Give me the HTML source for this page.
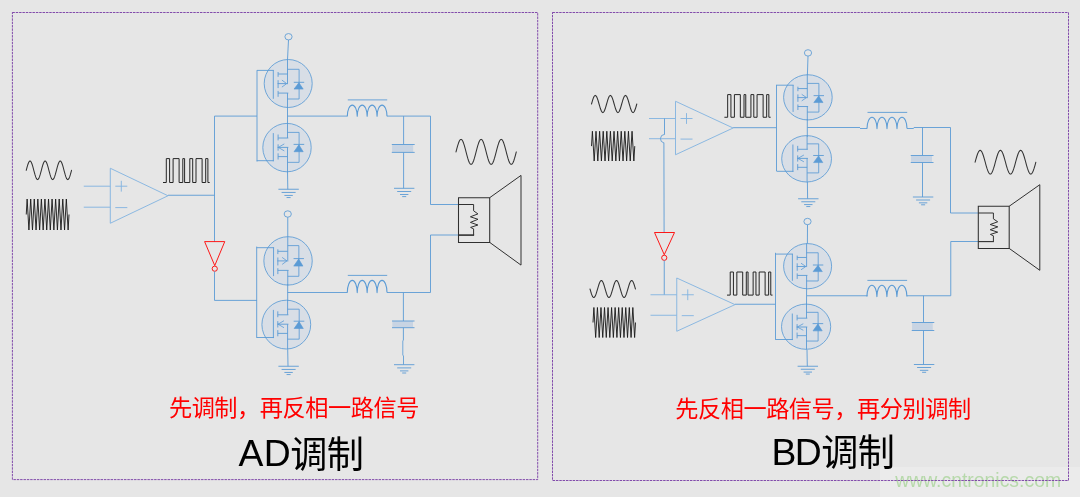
<!DOCTYPE html>
<html lang="zh-CN">
<head>
<meta charset="utf-8">
<title>AD调制 / BD调制</title>
<style>
html,body{margin:0;padding:0;background:#e6e6e6;}
body{width:1080px;height:497px;overflow:hidden;position:relative;font-family:"Liberation Sans","Noto Sans CJK SC",sans-serif;}
svg{position:absolute;left:0;top:0;display:block;will-change:transform;}
.wm{position:absolute;left:880px;top:467px;width:200px;height:30px;background:#ebebeb;}
</style>
</head>
<body>
<div class="wm"></div>
<svg width="1080" height="497" viewBox="0 0 1080 497">
<text x="978.1" y="487.4" font-size="19.4" fill="#b7d9ab" text-anchor="middle" font-family="'Liberation Sans',sans-serif">www.cntronics.com</text>
<rect x="12.4" y="12.5" width="525.3" height="467.1" fill="none" stroke="#7030a0" stroke-width="0.85" stroke-dasharray="2.45 0.9"/>
<rect x="552.5" y="12.5" width="516" height="468" fill="none" stroke="#7030a0" stroke-width="0.85" stroke-dasharray="2.45 0.9"/>
<path d="M26.25 170.3 L26.88 167.89 L27.51 165.65 L28.14 163.72 L28.77 162.25 L29.4 161.32 L30.02 161 L30.65 161.32 L31.28 162.25 L31.91 163.72 L32.54 165.65 L33.17 167.89 L33.8 170.3 L34.43 172.71 L35.06 174.95 L35.69 176.88 L36.32 178.35 L36.95 179.28 L37.58 179.6 L38.2 179.28 L38.83 178.35 L39.46 176.88 L40.09 174.95 L40.72 172.71 L41.35 170.3 L41.98 167.89 L42.61 165.65 L43.24 163.72 L43.87 162.25 L44.5 161.32 L45.12 161 L45.75 161.32 L46.38 162.25 L47.01 163.72 L47.64 165.65 L48.27 167.89 L48.9 170.3 L49.53 172.71 L50.16 174.95 L50.79 176.88 L51.42 178.35 L52.05 179.28 L52.67 179.6 L53.3 179.28 L53.93 178.35 L54.56 176.88 L55.19 174.95 L55.82 172.71 L56.45 170.3 L57.08 167.89 L57.71 165.65 L58.34 163.72 L58.97 162.25 L59.6 161.32 L60.23 161 L60.85 161.32 L61.48 162.25 L62.11 163.72 L62.74 165.65 L63.37 167.89 L64 170.3 L64.63 172.71 L65.26 174.95 L65.89 176.88 L66.52 178.35 L67.15 179.28 L67.78 179.6 L68.4 179.28 L69.03 178.35 L69.66 176.88 L70.29 174.95 L70.92 172.71 L71.55 170.3" stroke="#333333" stroke-width="1.05" fill="none" stroke-linejoin="round" stroke-linecap="round"/>
<path d="M26.25 214.5 L27.14 199 L28.92 230 L30.7 199 L32.48 230 L34.27 199 L36.05 230 L37.83 199 L39.61 230 L41.39 199 L43.17 230 L44.95 199 L46.73 230 L48.52 199 L50.3 230 L52.08 199 L53.86 230 L55.64 199 L57.42 230 L59.2 199 L60.98 230 L62.77 199 L64.55 230 L66.33 199 L68.11 230 L69 214.5" stroke="#1a1a1a" stroke-width="0.92" fill="none" stroke-linejoin="round"/>
<path d="M110.3 168.25 L168 195.75 L110.3 223.25 Z" stroke="#86b5e0" stroke-width="0.95" fill="none" />
<line x1="83.75" y1="186.2" x2="110.3" y2="186.2" stroke="#86b5e0" stroke-width="0.95" />
<line x1="83.75" y1="207.2" x2="110.3" y2="207.2" stroke="#86b5e0" stroke-width="0.95" />
<line x1="115.3" y1="186.2" x2="127.3" y2="186.2" stroke="#86b5e0" stroke-width="0.95" />
<line x1="121.3" y1="180.8" x2="121.3" y2="191.6" stroke="#86b5e0" stroke-width="0.95" />
<line x1="115.3" y1="207.6" x2="127.3" y2="207.6" stroke="#86b5e0" stroke-width="0.95" />
<path d="M163 182.5 L166.3 182.5 L166.3 158.6 L169.6 158.6 L169.6 182.5 L173.1 182.5 L173.1 158.6 L179.1 158.6 L179.1 182.5 L182.8 182.5 L182.8 158.6 L184.6 158.6 L184.6 182.5 L189.8 182.5 L189.8 158.6 L192.7 158.6 L192.7 182.5 L196 182.5 L196 158.6 L202.1 158.6 L202.1 182.5 L205.7 182.5 L205.7 158.6 L207.9 158.6 L207.9 182.5 L209.7 182.5" stroke="#262626" stroke-width="1.0" fill="none" />
<line x1="168" y1="195.25" x2="214.5" y2="195.25" stroke="#5b9bd5" stroke-width="0.9" />
<line x1="214.5" y1="116.1" x2="214.5" y2="241.6" stroke="#5b9bd5" stroke-width="0.9" />
<line x1="214.5" y1="116.1" x2="257" y2="116.1" stroke="#5b9bd5" stroke-width="0.9" />
<line x1="257" y1="70.2" x2="257" y2="161.5" stroke="#5b9bd5" stroke-width="0.9" />
<ellipse cx="288.2" cy="83.5" rx="24" ry="24" fill="#d8dee6" stroke="#5b9bd5" stroke-width="0.85"/>
<line x1="273.3" y1="70.2" x2="273.3" y2="98.8" stroke="#5b9bd5" stroke-width="0.9" />
<line x1="257" y1="70.4" x2="273.8" y2="70.4" stroke="#5b9bd5" stroke-width="0.9" />
<line x1="278.1" y1="72" x2="278.1" y2="76.8" stroke="#5b9bd5" stroke-width="0.9" />
<line x1="278.1" y1="80.2" x2="278.1" y2="88.1" stroke="#5b9bd5" stroke-width="0.9" />
<line x1="278.1" y1="90.9" x2="278.1" y2="96.8" stroke="#5b9bd5" stroke-width="0.9" />
<line x1="278.1" y1="74" x2="287.5" y2="74" stroke="#5b9bd5" stroke-width="0.9" />
<line x1="278.1" y1="93.1" x2="288.3" y2="93.1" stroke="#5b9bd5" stroke-width="0.9" />
<line x1="277.6" y1="83.6" x2="286.7" y2="83.6" stroke="#5b9bd5" stroke-width="0.9" />
<path d="M281.9 80.1 L286.7 83.6 L281.9 87.1" stroke="#5b9bd5" stroke-width="0.8" fill="none" />
<line x1="287.5" y1="59.2" x2="287.5" y2="84.2" stroke="#5b9bd5" stroke-width="0.9" />
<line x1="287.5" y1="93.1" x2="287.5" y2="107.8" stroke="#5b9bd5" stroke-width="0.9" />
<path d="M287.5 69.3 L299.1 69.3 L299.1 99 L287.5 99" stroke="#5b9bd5" stroke-width="0.85" fill="none" />
<line x1="293.8" y1="82.3" x2="304.2" y2="82.3" stroke="#5b9bd5" stroke-width="0.9" />
<path d="M298.9 82.7 L303.2 89.1 L294 89.1 Z" stroke="#5b9bd5" stroke-width="0.6" fill="#5b9bd5" />
<ellipse cx="287" cy="147.6" rx="24.2" ry="24.2" fill="#d8dee6" stroke="#5b9bd5" stroke-width="0.85"/>
<line x1="273.3" y1="133.1" x2="273.3" y2="161.3" stroke="#5b9bd5" stroke-width="0.9" />
<line x1="256.8" y1="160.7" x2="273.8" y2="160.7" stroke="#5b9bd5" stroke-width="0.9" />
<line x1="278.1" y1="134.5" x2="278.1" y2="140.4" stroke="#5b9bd5" stroke-width="0.9" />
<line x1="278.1" y1="144.3" x2="278.1" y2="150.7" stroke="#5b9bd5" stroke-width="0.9" />
<line x1="278.1" y1="153.3" x2="278.1" y2="159.5" stroke="#5b9bd5" stroke-width="0.9" />
<line x1="278.1" y1="138" x2="288.3" y2="138" stroke="#5b9bd5" stroke-width="0.9" />
<line x1="278.1" y1="156.6" x2="287.5" y2="156.6" stroke="#5b9bd5" stroke-width="0.9" />
<line x1="277.6" y1="147.4" x2="288.3" y2="147.4" stroke="#5b9bd5" stroke-width="0.9" />
<path d="M284.3 143.9 L278.3 147.4 L284.3 150.9" stroke="#5b9bd5" stroke-width="0.8" fill="none" />
<line x1="287.5" y1="123.1" x2="287.5" y2="138" stroke="#5b9bd5" stroke-width="0.9" />
<line x1="287.5" y1="147.4" x2="287.5" y2="172.1" stroke="#5b9bd5" stroke-width="0.9" />
<path d="M287.5 132.4 L299.1 132.4 L299.1 162.35 L287.5 162.35" stroke="#5b9bd5" stroke-width="0.85" fill="none" />
<line x1="293.6" y1="144.4" x2="304.2" y2="144.4" stroke="#5b9bd5" stroke-width="0.9" />
<path d="M298.9 144.8 L303.2 151.7 L294 151.7 Z" stroke="#5b9bd5" stroke-width="0.6" fill="#5b9bd5" />
<ellipse cx="288.5" cy="36.75" rx="3.6" ry="3.2" fill="none" stroke="#5b9bd5" stroke-width="0.85"/>
<line x1="288.5" y1="39.95" x2="287.5" y2="59.5" stroke="#5b9bd5" stroke-width="0.9" />
<line x1="287.5" y1="107" x2="287.5" y2="124" stroke="#5b9bd5" stroke-width="0.9" />
<line x1="287.6" y1="116.1" x2="347.5" y2="116.1" stroke="#5b9bd5" stroke-width="0.9" />
<path d="M347.3 116.3 A4.96 11.2 0 0 1 357.23 116.3 A4.96 11.2 0 0 1 367.15 116.3 A4.96 11.2 0 0 1 377.07 116.3 A4.96 11.2 0 0 1 387 116.3" stroke="#5b9bd5" stroke-width="1.1" fill="none" stroke-linejoin="round"/>
<line x1="347.8" y1="99.9" x2="387.2" y2="99.9" stroke="#5b9bd5" stroke-width="0.9" />
<line x1="387" y1="116.1" x2="430.5" y2="116.1" stroke="#5b9bd5" stroke-width="0.9" />
<line x1="403.6" y1="116.1" x2="403.6" y2="144.5" stroke="#5b9bd5" stroke-width="0.9" />
<rect x="392.1" y="144.5" width="21.1" height="7.9" fill="#c8d4e3"/>
<line x1="391.8" y1="144.5" x2="414.7" y2="144.5" stroke="#5b9bd5" stroke-width="0.9" />
<line x1="391.8" y1="152.4" x2="414.7" y2="152.4" stroke="#5b9bd5" stroke-width="0.9" />
<line x1="403.6" y1="152.4" x2="403.6" y2="188.3" stroke="#5b9bd5" stroke-width="0.9" />
<line x1="394" y1="188.3" x2="414.4" y2="188.3" stroke="#5b9bd5" stroke-width="0.9" />
<line x1="397.2" y1="191.5" x2="411.2" y2="191.5" stroke="#5b9bd5" stroke-width="0.9" />
<line x1="400" y1="194.5" x2="408.4" y2="194.5" stroke="#5b9bd5" stroke-width="0.9" />
<line x1="402.2" y1="196.6" x2="406.2" y2="196.6" stroke="#5b9bd5" stroke-width="0.9" />
<line x1="430.5" y1="116.1" x2="430.5" y2="204.5" stroke="#5b9bd5" stroke-width="0.9" />
<line x1="430.5" y1="204.5" x2="458.5" y2="204.5" stroke="#5b9bd5" stroke-width="0.9" />
<line x1="287.5" y1="171.5" x2="287.8" y2="189.25" stroke="#5b9bd5" stroke-width="0.9" />
<line x1="278.4" y1="189.25" x2="298.8" y2="189.25" stroke="#5b9bd5" stroke-width="0.9" />
<line x1="281.6" y1="192.45" x2="295.6" y2="192.45" stroke="#5b9bd5" stroke-width="0.9" />
<line x1="284.4" y1="195.45" x2="292.8" y2="195.45" stroke="#5b9bd5" stroke-width="0.9" />
<line x1="286.6" y1="197.55" x2="290.6" y2="197.55" stroke="#5b9bd5" stroke-width="0.9" />
<path d="M204.6 241.6 L224.75 241.6 L214.75 265.6 Z" stroke="#ff0000" stroke-width="0.9" fill="none" stroke-linejoin="miter"/>
<circle cx="214.75" cy="268.7" r="2.6" fill="none" stroke="#ff0000" stroke-width="0.9"/>
<line x1="214.5" y1="271.4" x2="214.5" y2="300.4" stroke="#5b9bd5" stroke-width="0.9" />
<line x1="214.5" y1="300.4" x2="257" y2="300.4" stroke="#5b9bd5" stroke-width="0.9" />
<line x1="256.7" y1="246.6" x2="256.7" y2="337.8" stroke="#5b9bd5" stroke-width="0.9" />
<ellipse cx="288.05" cy="260.9" rx="24.2" ry="24.2" fill="#d8dee6" stroke="#5b9bd5" stroke-width="0.85"/>
<line x1="273.55" y1="247.5" x2="273.55" y2="276.1" stroke="#5b9bd5" stroke-width="0.9" />
<line x1="256.7" y1="247.7" x2="274.05" y2="247.7" stroke="#5b9bd5" stroke-width="0.9" />
<line x1="277.85" y1="249.3" x2="277.85" y2="254.1" stroke="#5b9bd5" stroke-width="0.9" />
<line x1="277.85" y1="257.5" x2="277.85" y2="265.4" stroke="#5b9bd5" stroke-width="0.9" />
<line x1="277.85" y1="268.2" x2="277.85" y2="274.1" stroke="#5b9bd5" stroke-width="0.9" />
<line x1="277.85" y1="251.3" x2="287.75" y2="251.3" stroke="#5b9bd5" stroke-width="0.9" />
<line x1="277.85" y1="270.4" x2="288.55" y2="270.4" stroke="#5b9bd5" stroke-width="0.9" />
<line x1="277.35" y1="260.9" x2="286.95" y2="260.9" stroke="#5b9bd5" stroke-width="0.9" />
<path d="M282.15 257.4 L286.95 260.9 L282.15 264.4" stroke="#5b9bd5" stroke-width="0.8" fill="none" />
<line x1="287.75" y1="236.4" x2="287.75" y2="261.5" stroke="#5b9bd5" stroke-width="0.9" />
<line x1="287.75" y1="270.4" x2="287.75" y2="285.4" stroke="#5b9bd5" stroke-width="0.9" />
<path d="M287.75 245.6 L298.85 245.6 L298.85 276.3 L287.75 276.3" stroke="#5b9bd5" stroke-width="0.85" fill="none" />
<line x1="293.55" y1="258.6" x2="303.95" y2="258.6" stroke="#5b9bd5" stroke-width="0.9" />
<path d="M298.65 259 L302.95 266.1 L293.75 266.1 Z" stroke="#5b9bd5" stroke-width="0.6" fill="#5b9bd5" />
<ellipse cx="286.3" cy="324.6" rx="24.4" ry="24.4" fill="#d8dee6" stroke="#5b9bd5" stroke-width="0.85"/>
<line x1="273.4" y1="309.9" x2="273.4" y2="338.1" stroke="#5b9bd5" stroke-width="0.9" />
<line x1="256.7" y1="337.5" x2="273.9" y2="337.5" stroke="#5b9bd5" stroke-width="0.9" />
<line x1="277.8" y1="311.3" x2="277.8" y2="317.2" stroke="#5b9bd5" stroke-width="0.9" />
<line x1="277.8" y1="321.1" x2="277.8" y2="327.5" stroke="#5b9bd5" stroke-width="0.9" />
<line x1="277.8" y1="330.1" x2="277.8" y2="336.3" stroke="#5b9bd5" stroke-width="0.9" />
<line x1="277.8" y1="314.8" x2="288.4" y2="314.8" stroke="#5b9bd5" stroke-width="0.9" />
<line x1="277.8" y1="333.4" x2="287.6" y2="333.4" stroke="#5b9bd5" stroke-width="0.9" />
<line x1="277.3" y1="324.2" x2="288.4" y2="324.2" stroke="#5b9bd5" stroke-width="0.9" />
<path d="M284 320.7 L278 324.2 L284 327.7" stroke="#5b9bd5" stroke-width="0.8" fill="none" />
<line x1="287.6" y1="299.9" x2="287.6" y2="314.8" stroke="#5b9bd5" stroke-width="0.9" />
<line x1="287.6" y1="324.2" x2="287.6" y2="349.3" stroke="#5b9bd5" stroke-width="0.9" />
<path d="M287.6 309.2 L299.2 309.2 L299.2 339.15 L287.6 339.15" stroke="#5b9bd5" stroke-width="0.85" fill="none" />
<line x1="293.7" y1="321.2" x2="304.3" y2="321.2" stroke="#5b9bd5" stroke-width="0.9" />
<path d="M299 321.6 L303.3 328.5 L294.1 328.5 Z" stroke="#5b9bd5" stroke-width="0.6" fill="#5b9bd5" />
<ellipse cx="287.75" cy="214" rx="3.6" ry="3.2" fill="none" stroke="#5b9bd5" stroke-width="0.85"/>
<line x1="287.75" y1="217.2" x2="287.75" y2="236.8" stroke="#5b9bd5" stroke-width="0.9" />
<line x1="287.7" y1="284" x2="287.7" y2="301" stroke="#5b9bd5" stroke-width="0.9" />
<line x1="287.6" y1="292.5" x2="347.5" y2="292.5" stroke="#5b9bd5" stroke-width="0.9" />
<path d="M347.3 292.6 A4.96 12.2 0 0 1 357.23 292.6 A4.96 12.2 0 0 1 367.15 292.6 A4.96 12.2 0 0 1 377.07 292.6 A4.96 12.2 0 0 1 387 292.6" stroke="#5b9bd5" stroke-width="1.1" fill="none" stroke-linejoin="round"/>
<line x1="347.8" y1="275.4" x2="387.2" y2="275.4" stroke="#5b9bd5" stroke-width="0.9" />
<line x1="387" y1="292.5" x2="430.5" y2="292.5" stroke="#5b9bd5" stroke-width="0.9" />
<line x1="430.5" y1="235" x2="430.5" y2="292.5" stroke="#5b9bd5" stroke-width="0.9" />
<line x1="430.5" y1="235" x2="458.5" y2="235" stroke="#5b9bd5" stroke-width="0.9" />
<line x1="403.4" y1="292.5" x2="403.4" y2="321" stroke="#5b9bd5" stroke-width="0.9" />
<rect x="392.3" y="321" width="20.7" height="6.7" fill="#c8d4e3"/>
<line x1="392" y1="321" x2="414.5" y2="321" stroke="#5b9bd5" stroke-width="0.9" />
<line x1="392" y1="327.7" x2="414.5" y2="327.7" stroke="#5b9bd5" stroke-width="0.9" />
<line x1="403.4" y1="327.7" x2="403.4" y2="340" stroke="#5b9bd5" stroke-width="0.9" />
<path d="M403.4 340 L402.8 341 L402.8 355 L403.5 356 L403.5 364.6" stroke="#5b9bd5" stroke-width="0.85" fill="none" />
<line x1="394" y1="364.7" x2="414.4" y2="364.7" stroke="#5b9bd5" stroke-width="0.9" />
<line x1="397.2" y1="367.9" x2="411.2" y2="367.9" stroke="#5b9bd5" stroke-width="0.9" />
<line x1="400" y1="370.9" x2="408.4" y2="370.9" stroke="#5b9bd5" stroke-width="0.9" />
<line x1="402.2" y1="373" x2="406.2" y2="373" stroke="#5b9bd5" stroke-width="0.9" />
<line x1="287.7" y1="349.3" x2="288" y2="366.25" stroke="#5b9bd5" stroke-width="0.9" />
<line x1="278.4" y1="366.25" x2="298.8" y2="366.25" stroke="#5b9bd5" stroke-width="0.9" />
<line x1="281.6" y1="369.45" x2="295.6" y2="369.45" stroke="#5b9bd5" stroke-width="0.9" />
<line x1="284.4" y1="372.45" x2="292.8" y2="372.45" stroke="#5b9bd5" stroke-width="0.9" />
<line x1="286.6" y1="374.55" x2="290.6" y2="374.55" stroke="#5b9bd5" stroke-width="0.9" />
<path d="M458.5 197.7 L489.7 197.7 L489.7 242.4 L458.5 242.4 Z" stroke="#303030" stroke-width="1.05" fill="none" />
<path d="M489.7 197.7 L521 175.4 L521 265.1 L489.7 242.4" stroke="#303030" stroke-width="1.0" fill="none" />
<path d="M458.5 204.5 L473.6 204.5 L473.6 210.8 L477.9 213.9 L470.4 216.8 L478 219.3 L470.4 222.4 L477.9 225 L470.6 227.4 L473.6 228.9 L473.6 235.1" stroke="#303030" stroke-width="1.0" fill="none" stroke-linejoin="round"/>
<line x1="458.5" y1="235.1" x2="474.1" y2="235.1" stroke="#303030" stroke-width="1.6" />
<path d="M456 151.9 L456.84 148.66 L457.68 145.65 L458.51 143.06 L459.35 141.07 L460.19 139.83 L461.02 139.4 L461.86 139.83 L462.7 141.07 L463.54 143.06 L464.38 145.65 L465.21 148.66 L466.05 151.9 L466.89 155.14 L467.73 158.15 L468.56 160.74 L469.4 162.73 L470.24 163.97 L471.07 164.4 L471.91 163.97 L472.75 162.73 L473.59 160.74 L474.43 158.15 L475.26 155.14 L476.1 151.9 L476.94 148.66 L477.77 145.65 L478.61 143.06 L479.45 141.07 L480.29 139.83 L481.12 139.4 L481.96 139.83 L482.8 141.07 L483.64 143.06 L484.48 145.65 L485.31 148.66 L486.15 151.9 L486.99 155.14 L487.82 158.15 L488.66 160.74 L489.5 162.73 L490.34 163.97 L491.18 164.4 L492.01 163.97 L492.85 162.73 L493.69 160.74 L494.52 158.15 L495.36 155.14 L496.2 151.9 L497.04 148.66 L497.88 145.65 L498.71 143.06 L499.55 141.07 L500.39 139.83 L501.23 139.4 L502.06 139.83 L502.9 141.07 L503.74 143.06 L504.57 145.65 L505.41 148.66 L506.25 151.9 L507.09 155.14 L507.93 158.15 L508.76 160.74 L509.6 162.73 L510.44 163.97 L511.27 164.4 L512.11 163.97 L512.95 162.73 L513.79 160.74 L514.62 158.15 L515.46 155.14 L516.3 151.9" stroke="#333333" stroke-width="1.05" fill="none" stroke-linejoin="round" stroke-linecap="round"/>
<path d="M591.5 104 L592.13 101.77 L592.76 99.7 L593.39 97.92 L594.02 96.55 L594.65 95.69 L595.27 95.4 L595.9 95.69 L596.53 96.55 L597.16 97.92 L597.79 99.7 L598.42 101.77 L599.05 104 L599.68 106.23 L600.31 108.3 L600.94 110.08 L601.57 111.45 L602.2 112.31 L602.83 112.6 L603.45 112.31 L604.08 111.45 L604.71 110.08 L605.34 108.3 L605.97 106.23 L606.6 104 L607.23 101.77 L607.86 99.7 L608.49 97.92 L609.12 96.55 L609.75 95.69 L610.38 95.4 L611 95.69 L611.63 96.55 L612.26 97.92 L612.89 99.7 L613.52 101.77 L614.15 104 L614.78 106.23 L615.41 108.3 L616.04 110.08 L616.67 111.45 L617.3 112.31 L617.92 112.6 L618.55 112.31 L619.18 111.45 L619.81 110.08 L620.44 108.3 L621.07 106.23 L621.7 104 L622.33 101.77 L622.96 99.7 L623.59 97.92 L624.22 96.55 L624.85 95.69 L625.48 95.4 L626.1 95.69 L626.73 96.55 L627.36 97.92 L627.99 99.7 L628.62 101.77 L629.25 104 L629.88 106.23 L630.51 108.3 L631.14 110.08 L631.77 111.45 L632.4 112.31 L633.02 112.6 L633.65 112.31 L634.28 111.45 L634.91 110.08 L635.54 108.3 L636.17 106.23 L636.8 104" stroke="#333333" stroke-width="1.05" fill="none" stroke-linejoin="round" stroke-linecap="round"/>
<path d="M591.5 146.12 L592.4 131.25 L594.2 161 L596.01 131.25 L597.81 161 L599.61 131.25 L601.41 161 L603.21 131.25 L605.02 161 L606.82 131.25 L608.62 161 L610.42 131.25 L612.22 161 L614.03 131.25 L615.83 161 L617.63 131.25 L619.43 161 L621.23 131.25 L623.04 161 L624.84 131.25 L626.64 161 L628.44 131.25 L630.24 161 L632.05 131.25 L633.85 161 L634.75 146.12" stroke="#1a1a1a" stroke-width="0.92" fill="none" stroke-linejoin="round"/>
<path d="M675.5 101.25 L733.1 128 L675.5 154.75 Z" stroke="#86b5e0" stroke-width="0.95" fill="none" />
<line x1="649" y1="118.5" x2="675.5" y2="118.5" stroke="#86b5e0" stroke-width="0.95" />
<line x1="649" y1="138.7" x2="675.5" y2="138.7" stroke="#86b5e0" stroke-width="0.95" />
<line x1="680.5" y1="118.5" x2="692.5" y2="118.5" stroke="#86b5e0" stroke-width="0.95" />
<line x1="686.5" y1="113.1" x2="686.5" y2="123.9" stroke="#86b5e0" stroke-width="0.95" />
<line x1="680.5" y1="139.1" x2="692.5" y2="139.1" stroke="#86b5e0" stroke-width="0.95" />
<path d="M724.4 117.25 L727.67 117.25 L727.67 94.6 L730.93 94.6 L730.93 117.25 L734.4 117.25 L734.4 94.6 L740.34 94.6 L740.34 117.25 L744 117.25 L744 94.6 L745.78 94.6 L745.78 117.25 L750.93 117.25 L750.93 94.6 L753.8 94.6 L753.8 117.25 L757.07 117.25 L757.07 94.6 L763.11 94.6 L763.11 117.25 L766.67 117.25 L766.67 94.6 L768.85 94.6 L768.85 117.25 L770.63 117.25" stroke="#262626" stroke-width="1.0" fill="none" />
<line x1="664.5" y1="118.5" x2="664.5" y2="134.6" stroke="#5b9bd5" stroke-width="0.9" />
<path d="M664.5 134.4 A4.3 4.3 0 0 0 663.9 142.9" stroke="#5b9bd5" stroke-width="0.85" fill="none"/>
<line x1="663.9" y1="142.7" x2="664.1" y2="232.5" stroke="#5b9bd5" stroke-width="0.9" />
<path d="M654.5 232.5 L674.5 232.5 L664.25 254.7 Z" stroke="#ff0000" stroke-width="0.9" fill="none" stroke-linejoin="miter"/>
<circle cx="664.25" cy="257.8" r="2.6" fill="none" stroke="#ff0000" stroke-width="0.9"/>
<line x1="664.25" y1="260.5" x2="664.25" y2="295" stroke="#5b9bd5" stroke-width="0.9" />
<path d="M590 289 L590.63 291.2 L591.26 293.25 L591.89 295.01 L592.52 296.36 L593.16 297.21 L593.79 297.5 L594.42 297.21 L595.05 296.36 L595.68 295.01 L596.31 293.25 L596.94 291.2 L597.58 289 L598.21 286.8 L598.84 284.75 L599.47 282.99 L600.1 281.64 L600.73 280.79 L601.36 280.5 L601.99 280.79 L602.62 281.64 L603.26 282.99 L603.89 284.75 L604.52 286.8 L605.15 289 L605.78 291.2 L606.41 293.25 L607.04 295.01 L607.67 296.36 L608.31 297.21 L608.94 297.5 L609.57 297.21 L610.2 296.36 L610.83 295.01 L611.46 293.25 L612.09 291.2 L612.73 289 L613.36 286.8 L613.99 284.75 L614.62 282.99 L615.25 281.64 L615.88 280.79 L616.51 280.5 L617.14 280.79 L617.77 281.64 L618.41 282.99 L619.04 284.75 L619.67 286.8 L620.3 289 L620.93 291.2 L621.56 293.25 L622.19 295.01 L622.83 296.36 L623.46 297.21 L624.09 297.5 L624.72 297.21 L625.35 296.36 L625.98 295.01 L626.61 293.25 L627.24 291.2 L627.88 289 L628.51 286.8 L629.14 284.75 L629.77 282.99 L630.4 281.64 L631.03 280.79 L631.66 280.5 L632.29 280.79 L632.92 281.64 L633.56 282.99 L634.19 284.75 L634.82 286.8 L635.45 289" stroke="#333333" stroke-width="1.05" fill="none" stroke-linejoin="round" stroke-linecap="round"/>
<path d="M593 322.5 L593.89 307.5 L595.66 337.5 L597.43 307.5 L599.2 337.5 L600.97 307.5 L602.74 337.5 L604.51 307.5 L606.28 337.5 L608.05 307.5 L609.82 337.5 L611.59 307.5 L613.36 337.5 L615.14 307.5 L616.91 337.5 L618.68 307.5 L620.45 337.5 L622.22 307.5 L623.99 337.5 L625.76 307.5 L627.53 337.5 L629.3 307.5 L631.07 337.5 L632.84 307.5 L634.61 337.5 L635.5 322.5" stroke="#1a1a1a" stroke-width="0.92" fill="none" stroke-linejoin="round"/>
<path d="M676.75 278 L735 304.62 L676.75 331.25 Z" stroke="#86b5e0" stroke-width="0.95" fill="none" />
<line x1="650.5" y1="294.75" x2="676.75" y2="294.75" stroke="#86b5e0" stroke-width="0.95" />
<line x1="650.5" y1="315.25" x2="676.75" y2="315.25" stroke="#86b5e0" stroke-width="0.95" />
<line x1="681.75" y1="294.75" x2="693.75" y2="294.75" stroke="#86b5e0" stroke-width="0.95" />
<line x1="687.75" y1="289.35" x2="687.75" y2="300.15" stroke="#86b5e0" stroke-width="0.95" />
<line x1="681.75" y1="315.65" x2="693.75" y2="315.65" stroke="#86b5e0" stroke-width="0.95" />
<path d="M727 295.1 L730.22 295.1 L730.22 272 L733.43 272 L733.43 295.1 L736.85 295.1 L736.85 272 L742.7 272 L742.7 295.1 L746.3 295.1 L746.3 272 L748.06 272 L748.06 295.1 L753.13 295.1 L753.13 272 L755.96 272 L755.96 295.1 L759.17 295.1 L759.17 272 L765.12 272 L765.12 295.1 L768.63 295.1 L768.63 272 L770.78 272 L770.78 295.1 L772.53 295.1" stroke="#262626" stroke-width="1.0" fill="none" />
<line x1="733.1" y1="127.7" x2="776.5" y2="127.7" stroke="#5b9bd5" stroke-width="0.9" />
<line x1="776.5" y1="84.8" x2="776.5" y2="171" stroke="#5b9bd5" stroke-width="0.9" />
<ellipse cx="807.9" cy="97.35" rx="24.3" ry="22.6" fill="#d8dee6" stroke="#5b9bd5" stroke-width="0.85"/>
<line x1="793.1" y1="85" x2="793.1" y2="111.89" stroke="#5b9bd5" stroke-width="0.9" />
<line x1="776.5" y1="85.19" x2="793.6" y2="85.19" stroke="#5b9bd5" stroke-width="0.9" />
<line x1="797.9" y1="86.7" x2="797.9" y2="91.21" stroke="#5b9bd5" stroke-width="0.9" />
<line x1="797.9" y1="94.4" x2="797.9" y2="101.83" stroke="#5b9bd5" stroke-width="0.9" />
<line x1="797.9" y1="104.46" x2="797.9" y2="110.01" stroke="#5b9bd5" stroke-width="0.9" />
<line x1="797.9" y1="88.58" x2="807.3" y2="88.58" stroke="#5b9bd5" stroke-width="0.9" />
<line x1="797.9" y1="106.53" x2="808.1" y2="106.53" stroke="#5b9bd5" stroke-width="0.9" />
<line x1="797.4" y1="97.6" x2="806.5" y2="97.6" stroke="#5b9bd5" stroke-width="0.9" />
<path d="M801.7 94.31 L806.5 97.6 L801.7 100.89" stroke="#5b9bd5" stroke-width="0.8" fill="none" />
<line x1="807.3" y1="74.45" x2="807.3" y2="98.16" stroke="#5b9bd5" stroke-width="0.9" />
<line x1="807.3" y1="106.53" x2="807.3" y2="120.25" stroke="#5b9bd5" stroke-width="0.9" />
<path d="M807.3 83.41 L818.9 83.41 L818.9 112.08 L807.3 112.08" stroke="#5b9bd5" stroke-width="0.85" fill="none" />
<line x1="813.6" y1="95.63" x2="824" y2="95.63" stroke="#5b9bd5" stroke-width="0.9" />
<path d="M818.7 96 L823 102.54 L813.8 102.54 Z" stroke="#5b9bd5" stroke-width="0.6" fill="#5b9bd5" />
<ellipse cx="806.6" cy="158.8" rx="24.9" ry="23.2" fill="#d8dee6" stroke="#5b9bd5" stroke-width="0.85"/>
<line x1="792.9" y1="144.53" x2="792.9" y2="171.88" stroke="#5b9bd5" stroke-width="0.9" />
<line x1="776.5" y1="171.3" x2="793.4" y2="171.3" stroke="#5b9bd5" stroke-width="0.9" />
<line x1="797.7" y1="145.89" x2="797.7" y2="151.61" stroke="#5b9bd5" stroke-width="0.9" />
<line x1="797.7" y1="155.39" x2="797.7" y2="161.6" stroke="#5b9bd5" stroke-width="0.9" />
<line x1="797.7" y1="164.12" x2="797.7" y2="170.14" stroke="#5b9bd5" stroke-width="0.9" />
<line x1="797.7" y1="149.28" x2="807.9" y2="149.28" stroke="#5b9bd5" stroke-width="0.9" />
<line x1="797.7" y1="167.32" x2="807.1" y2="167.32" stroke="#5b9bd5" stroke-width="0.9" />
<line x1="797.2" y1="158.4" x2="807.9" y2="158.4" stroke="#5b9bd5" stroke-width="0.9" />
<path d="M803.9 155 L797.9 158.4 L803.9 161.8" stroke="#5b9bd5" stroke-width="0.8" fill="none" />
<line x1="807.1" y1="135.3" x2="807.1" y2="149.28" stroke="#5b9bd5" stroke-width="0.9" />
<line x1="807.1" y1="158.4" x2="807.1" y2="182.3" stroke="#5b9bd5" stroke-width="0.9" />
<path d="M807.1 143.85 L818.7 143.85 L818.7 172.9 L807.1 172.9" stroke="#5b9bd5" stroke-width="0.85" fill="none" />
<line x1="813.2" y1="155.49" x2="823.8" y2="155.49" stroke="#5b9bd5" stroke-width="0.9" />
<path d="M818.5 155.88 L822.8 162.57 L813.6 162.57 Z" stroke="#5b9bd5" stroke-width="0.6" fill="#5b9bd5" />
<ellipse cx="808" cy="52.9" rx="3.6" ry="3.2" fill="none" stroke="#5b9bd5" stroke-width="0.85"/>
<line x1="808" y1="56.1" x2="807.4" y2="75" stroke="#5b9bd5" stroke-width="0.9" />
<line x1="807.3" y1="119" x2="807.3" y2="137" stroke="#5b9bd5" stroke-width="0.9" />
<line x1="807.4" y1="127.5" x2="860" y2="127.5" stroke="#5b9bd5" stroke-width="0.9" />
<line x1="860" y1="128.5" x2="867.2" y2="128.5" stroke="#5b9bd5" stroke-width="0.9" />
<path d="M867 128.6 A5 11.3 0 0 1 877 128.6 A5 11.3 0 0 1 887 128.6 A5 11.3 0 0 1 897 128.6 A5 11.3 0 0 1 907 128.6" stroke="#5b9bd5" stroke-width="1.1" fill="none" stroke-linejoin="round"/>
<line x1="867.5" y1="112.4" x2="907.2" y2="112.4" stroke="#5b9bd5" stroke-width="0.9" />
<line x1="907" y1="128.5" x2="913.75" y2="128.5" stroke="#5b9bd5" stroke-width="0.9" />
<line x1="913.75" y1="127.5" x2="950.5" y2="127.5" stroke="#5b9bd5" stroke-width="0.9" />
<line x1="922.5" y1="127.5" x2="922.5" y2="155.5" stroke="#5b9bd5" stroke-width="0.9" />
<rect x="911.05" y="155.5" width="20.95" height="7" fill="#c8d4e3"/>
<line x1="910.75" y1="155.5" x2="933.5" y2="155.5" stroke="#5b9bd5" stroke-width="0.9" />
<line x1="910.75" y1="162.5" x2="933.5" y2="162.5" stroke="#5b9bd5" stroke-width="0.9" />
<line x1="922.5" y1="162.5" x2="922.5" y2="197" stroke="#5b9bd5" stroke-width="0.9" />
<line x1="912.9" y1="197" x2="933.3" y2="197" stroke="#5b9bd5" stroke-width="0.9" />
<line x1="916.1" y1="200.01" x2="930.1" y2="200.01" stroke="#5b9bd5" stroke-width="0.9" />
<line x1="918.9" y1="202.83" x2="927.3" y2="202.83" stroke="#5b9bd5" stroke-width="0.9" />
<line x1="921.1" y1="204.8" x2="925.1" y2="204.8" stroke="#5b9bd5" stroke-width="0.9" />
<line x1="950.5" y1="127.5" x2="950.5" y2="213" stroke="#5b9bd5" stroke-width="0.9" />
<line x1="950.5" y1="213" x2="978.25" y2="213" stroke="#5b9bd5" stroke-width="0.9" />
<line x1="807.4" y1="182" x2="807.6" y2="198.75" stroke="#5b9bd5" stroke-width="0.9" />
<line x1="798.1" y1="198.75" x2="818.5" y2="198.75" stroke="#5b9bd5" stroke-width="0.9" />
<line x1="801.3" y1="201.76" x2="815.3" y2="201.76" stroke="#5b9bd5" stroke-width="0.9" />
<line x1="804.1" y1="204.58" x2="812.5" y2="204.58" stroke="#5b9bd5" stroke-width="0.9" />
<line x1="806.3" y1="206.55" x2="810.3" y2="206.55" stroke="#5b9bd5" stroke-width="0.9" />
<line x1="735" y1="304.25" x2="775.5" y2="304.25" stroke="#5b9bd5" stroke-width="0.9" />
<line x1="775.5" y1="252.8" x2="775.5" y2="339.8" stroke="#5b9bd5" stroke-width="0.9" />
<ellipse cx="807.6" cy="266.2" rx="24" ry="22.6" fill="#d8dee6" stroke="#5b9bd5" stroke-width="0.85"/>
<line x1="792.4" y1="253.9" x2="792.4" y2="280.79" stroke="#5b9bd5" stroke-width="0.9" />
<line x1="775.5" y1="254.09" x2="792.9" y2="254.09" stroke="#5b9bd5" stroke-width="0.9" />
<line x1="797.2" y1="255.6" x2="797.2" y2="260.11" stroke="#5b9bd5" stroke-width="0.9" />
<line x1="797.2" y1="263.3" x2="797.2" y2="270.73" stroke="#5b9bd5" stroke-width="0.9" />
<line x1="797.2" y1="273.36" x2="797.2" y2="278.91" stroke="#5b9bd5" stroke-width="0.9" />
<line x1="797.2" y1="257.48" x2="806.6" y2="257.48" stroke="#5b9bd5" stroke-width="0.9" />
<line x1="797.2" y1="275.43" x2="807.4" y2="275.43" stroke="#5b9bd5" stroke-width="0.9" />
<line x1="796.7" y1="266.5" x2="805.8" y2="266.5" stroke="#5b9bd5" stroke-width="0.9" />
<path d="M801 263.21 L805.8 266.5 L801 269.79" stroke="#5b9bd5" stroke-width="0.8" fill="none" />
<line x1="806.6" y1="243.3" x2="806.6" y2="267.06" stroke="#5b9bd5" stroke-width="0.9" />
<line x1="806.6" y1="275.43" x2="806.6" y2="289.1" stroke="#5b9bd5" stroke-width="0.9" />
<path d="M806.6 252.78 L818.2 252.78 L818.2 280.98 L806.6 280.98" stroke="#5b9bd5" stroke-width="0.85" fill="none" />
<line x1="812.9" y1="265" x2="823.3" y2="265" stroke="#5b9bd5" stroke-width="0.9" />
<path d="M818 265.37 L822.3 271.59 L813.1 271.59 Z" stroke="#5b9bd5" stroke-width="0.6" fill="#5b9bd5" />
<ellipse cx="806.1" cy="326.7" rx="24.6" ry="22.6" fill="#d8dee6" stroke="#5b9bd5" stroke-width="0.85"/>
<line x1="792.3" y1="313.56" x2="792.3" y2="340.07" stroke="#5b9bd5" stroke-width="0.9" />
<line x1="775.5" y1="339.5" x2="792.8" y2="339.5" stroke="#5b9bd5" stroke-width="0.9" />
<line x1="797.1" y1="314.87" x2="797.1" y2="320.42" stroke="#5b9bd5" stroke-width="0.9" />
<line x1="797.1" y1="324.09" x2="797.1" y2="330.1" stroke="#5b9bd5" stroke-width="0.9" />
<line x1="797.1" y1="332.55" x2="797.1" y2="338.37" stroke="#5b9bd5" stroke-width="0.9" />
<line x1="797.1" y1="318.16" x2="807.3" y2="318.16" stroke="#5b9bd5" stroke-width="0.9" />
<line x1="797.1" y1="335.65" x2="806.5" y2="335.65" stroke="#5b9bd5" stroke-width="0.9" />
<line x1="796.6" y1="327" x2="807.3" y2="327" stroke="#5b9bd5" stroke-width="0.9" />
<path d="M803.3 323.71 L797.3 327 L803.3 330.29" stroke="#5b9bd5" stroke-width="0.8" fill="none" />
<line x1="806.5" y1="303.8" x2="806.5" y2="318.16" stroke="#5b9bd5" stroke-width="0.9" />
<line x1="806.5" y1="327" x2="806.5" y2="349.6" stroke="#5b9bd5" stroke-width="0.9" />
<path d="M806.5 312.34 L818.1 312.34 L818.1 341.05 L806.5 341.05" stroke="#5b9bd5" stroke-width="0.85" fill="none" />
<line x1="812.6" y1="323.62" x2="823.2" y2="323.62" stroke="#5b9bd5" stroke-width="0.9" />
<path d="M817.9 323.99 L822.2 330.87 L813 330.87 Z" stroke="#5b9bd5" stroke-width="0.6" fill="#5b9bd5" />
<ellipse cx="807.5" cy="221.5" rx="3.6" ry="3.2" fill="none" stroke="#5b9bd5" stroke-width="0.85"/>
<line x1="807.5" y1="224.7" x2="807.4" y2="243.6" stroke="#5b9bd5" stroke-width="0.9" />
<line x1="806.6" y1="288" x2="806.5" y2="305" stroke="#5b9bd5" stroke-width="0.9" />
<line x1="807" y1="295.75" x2="867.5" y2="295.75" stroke="#5b9bd5" stroke-width="0.9" />
<path d="M866.9 296.6 A5 11.4 0 0 1 876.9 296.6 A5 11.4 0 0 1 886.9 296.6 A5 11.4 0 0 1 896.9 296.6 A5 11.4 0 0 1 906.9 296.6" stroke="#5b9bd5" stroke-width="1.1" fill="none" stroke-linejoin="round"/>
<line x1="867.4" y1="280.4" x2="907.1" y2="280.4" stroke="#5b9bd5" stroke-width="0.9" />
<line x1="907" y1="295.75" x2="950.75" y2="295.75" stroke="#5b9bd5" stroke-width="0.9" />
<line x1="950.75" y1="241.5" x2="950.75" y2="295.75" stroke="#5b9bd5" stroke-width="0.9" />
<line x1="950.75" y1="241.5" x2="978.25" y2="241.5" stroke="#5b9bd5" stroke-width="0.9" />
<line x1="923.5" y1="295.75" x2="923.5" y2="322.5" stroke="#5b9bd5" stroke-width="0.9" />
<rect x="912.05" y="322.5" width="20.7" height="8" fill="#c8d4e3"/>
<line x1="911.75" y1="322.5" x2="934.25" y2="322.5" stroke="#5b9bd5" stroke-width="0.9" />
<line x1="911.75" y1="330.5" x2="934.25" y2="330.5" stroke="#5b9bd5" stroke-width="0.9" />
<line x1="923.5" y1="330.5" x2="923.5" y2="364.5" stroke="#5b9bd5" stroke-width="0.9" />
<line x1="913.9" y1="364.5" x2="934.3" y2="364.5" stroke="#5b9bd5" stroke-width="0.9" />
<line x1="917.1" y1="367.51" x2="931.1" y2="367.51" stroke="#5b9bd5" stroke-width="0.9" />
<line x1="919.9" y1="370.33" x2="928.3" y2="370.33" stroke="#5b9bd5" stroke-width="0.9" />
<line x1="922.1" y1="372.3" x2="926.1" y2="372.3" stroke="#5b9bd5" stroke-width="0.9" />
<line x1="807" y1="350" x2="807.3" y2="366.25" stroke="#5b9bd5" stroke-width="0.9" />
<line x1="797.6" y1="366.25" x2="818" y2="366.25" stroke="#5b9bd5" stroke-width="0.9" />
<line x1="800.8" y1="369.26" x2="814.8" y2="369.26" stroke="#5b9bd5" stroke-width="0.9" />
<line x1="803.6" y1="372.08" x2="812" y2="372.08" stroke="#5b9bd5" stroke-width="0.9" />
<line x1="805.8" y1="374.05" x2="809.8" y2="374.05" stroke="#5b9bd5" stroke-width="0.9" />
<path d="M978.3 206.25 L1009.2 206.25 L1009.2 248.4 L978.3 248.4 Z" stroke="#303030" stroke-width="1.05" fill="none" />
<path d="M1009.2 206.25 L1039.8 184.7 L1039.8 270.3 L1009.2 248.4" stroke="#303030" stroke-width="1.0" fill="none" />
<path d="M978.3 213 L993.4 213 L993.4 218.89 L997.7 221.79 L990.2 224.5 L997.8 226.83 L990.2 229.73 L997.7 232.16 L990.4 234.4 L993.4 235.81 L993.4 241.6" stroke="#303030" stroke-width="1.0" fill="none" stroke-linejoin="round"/>
<line x1="978.3" y1="241.6" x2="993.9" y2="241.6" stroke="#303030" stroke-width="1.1" />
<path d="M975.1 162.2 L975.94 159.12 L976.79 156.25 L977.63 153.79 L978.48 151.89 L979.32 150.71 L980.16 150.3 L981.01 150.71 L981.85 151.89 L982.69 153.79 L983.54 156.25 L984.38 159.12 L985.23 162.2 L986.07 165.28 L986.91 168.15 L987.76 170.61 L988.6 172.51 L989.44 173.69 L990.29 174.1 L991.13 173.69 L991.98 172.51 L992.82 170.61 L993.66 168.15 L994.51 165.28 L995.35 162.2 L996.19 159.12 L997.04 156.25 L997.88 153.79 L998.73 151.89 L999.57 150.71 L1000.41 150.3 L1001.26 150.71 L1002.1 151.89 L1002.94 153.79 L1003.79 156.25 L1004.63 159.12 L1005.48 162.2 L1006.32 165.28 L1007.16 168.15 L1008.01 170.61 L1008.85 172.51 L1009.69 173.69 L1010.54 174.1 L1011.38 173.69 L1012.23 172.51 L1013.07 170.61 L1013.91 168.15 L1014.76 165.28 L1015.6 162.2 L1016.44 159.12 L1017.29 156.25 L1018.13 153.79 L1018.98 151.89 L1019.82 150.71 L1020.66 150.3 L1021.51 150.71 L1022.35 151.89 L1023.19 153.79 L1024.04 156.25 L1024.88 159.12 L1025.72 162.2 L1026.57 165.28 L1027.41 168.15 L1028.26 170.61 L1029.1 172.51 L1029.94 173.69 L1030.79 174.1 L1031.63 173.69 L1032.47 172.51 L1033.32 170.61 L1034.16 168.15 L1035.01 165.28 L1035.85 162.2" stroke="#333333" stroke-width="1.05" fill="none" stroke-linejoin="round" stroke-linecap="round"/>
<g font-family="'Liberation Sans','Noto Sans CJK SC',sans-serif">
<text x="168.9" y="415.7" font-size="23.2" letter-spacing="-0.45" fill="#ff0000">先调制，再反相一路信号</text>
<text x="675.2" y="416.9" font-size="23.2" letter-spacing="-0.45" fill="#ff0000">先反相一路信号，再分别调制</text>
<text y="466.3" fill="#000"><tspan x="238.4" font-size="37.3" letter-spacing="0.5">AD</tspan><tspan x="290.3" font-size="37.2" letter-spacing="-0.7" dy="1.4">调制</tspan></text>
<text y="464.7" fill="#000"><tspan x="771.6" font-size="37.3" letter-spacing="-1.8">BD</tspan><tspan x="821.2" font-size="37.2" letter-spacing="-0.7" dy="1.4">调制</tspan></text>
</g>
</svg>
</body>
</html>
